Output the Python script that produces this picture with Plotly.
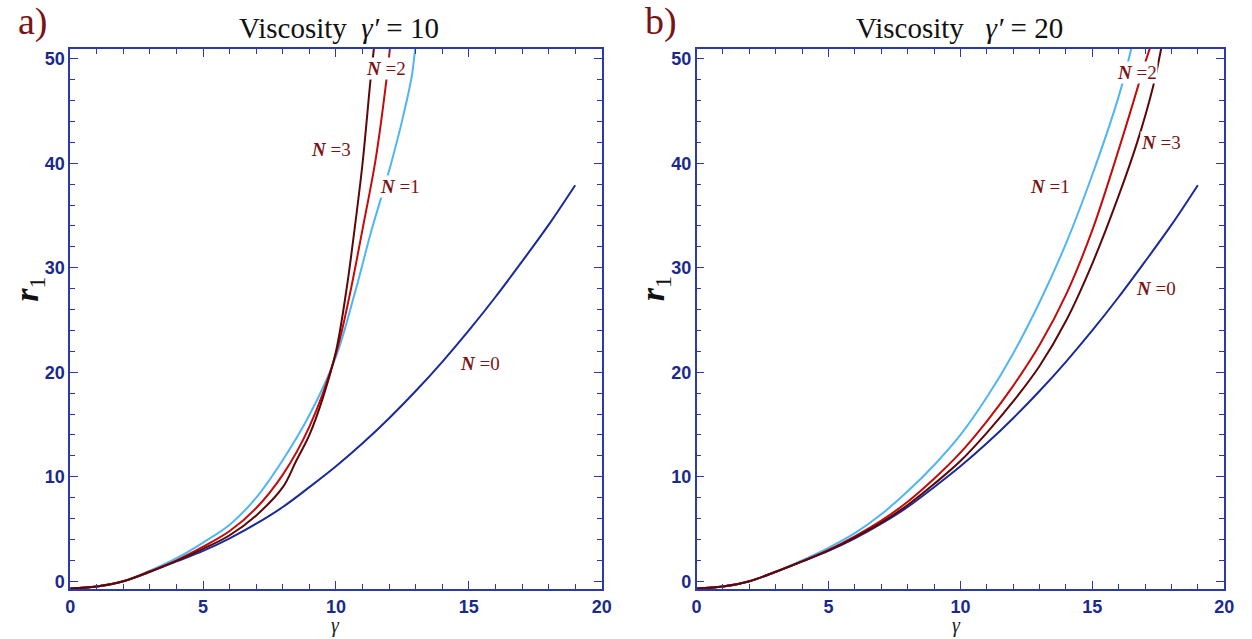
import plotly.graph_objects as go

# ---------------- data ----------------
# Panel a) gamma' = 10
a_n0_x = [0, 1, 2, 3, 4, 5, 6, 7, 8, 9, 10, 11, 12, 13, 14, 15, 16, 17, 18, 19]
a_n0_y = [-0.7, -0.5, 0.0, 0.9, 1.9, 2.9, 4.1, 5.5, 7.1, 9.0, 11.0, 13.2, 15.6, 18.2, 21.0, 24.0, 27.2, 30.6, 34.1, 37.9]

a_n1_x = [0, 1, 2, 3, 4, 5, 6, 7, 8, 9, 10, 10.7, 11.35, 11.9, 12.15, 12.5, 12.85, 12.95, 13.0]
a_n1_y = [-0.7, -0.5, 0.0, 1.0, 2.2, 3.7, 5.4, 8.0, 11.6, 15.9, 21.5, 27.5, 33.7, 38.4, 40.7, 44.2, 48.3, 50.3, 51.5]

a_n2_x = [0, 1, 2, 3, 4, 5, 6, 7, 8, 9, 10, 10.5, 11.0, 11.5, 11.9, 12.05]
a_n2_y = [-0.7, -0.5, 0.0, 0.95, 2.0, 3.3, 4.8, 7.0, 10.2, 14.8, 21.8, 27.2, 33.7, 40.5, 48.0, 51.5]

a_n3_x = [0, 1, 2, 3, 4, 5, 6, 7, 8, 8.5, 9, 9.5, 10, 10.4, 10.7, 11.0, 11.3, 11.45]
a_n3_y = [-0.7, -0.5, 0.0, 0.9, 1.95, 3.1, 4.4, 6.3, 9.0, 11.5, 14.0, 17.5, 22.0, 28.0, 33.7, 40.0, 48.0, 51.5]

# Panel b) gamma' = 20
b_n0_x = a_n0_x
b_n0_y = a_n0_y

b_n1_x = [0, 1, 2, 3, 4, 5, 6, 7, 8, 9, 10, 11, 12, 13, 14, 15, 16, 16.5]
b_n1_y = [-0.7, -0.5, 0.0, 0.9, 2.0, 3.2, 4.6, 6.4, 8.6, 11.1, 14.0, 17.6, 21.8, 26.7, 32.3, 38.9, 46.4, 51.2]

b_n2_x = [0, 1, 2, 3, 4, 5, 6, 7, 8, 9, 10, 11, 12, 13, 14, 15, 16, 16.5, 17, 17.25]
b_n2_y = [-0.7, -0.5, 0.0, 0.9, 1.9, 3.0, 4.3, 5.8, 7.6, 9.8, 12.3, 15.3, 18.7, 22.6, 27.4, 33.6, 41.3, 45.4, 49.6, 51.5]

b_n3_x = [0, 1, 2, 3, 4, 5, 6, 7, 8, 9, 10, 11, 12, 13, 14, 15, 16, 16.7, 17.3, 17.65]
b_n3_y = [-0.7, -0.5, 0.0, 0.9, 1.9, 2.95, 4.2, 5.6, 7.3, 9.3, 11.5, 14.2, 17.2, 20.6, 24.9, 30.4, 36.9, 42.0, 47.3, 51.5]

x_ticks = [0, 5, 10, 15, 20]
y_ticks = [0, 10, 20, 30, 40, 50]

# label positions (x, y, text) per panel
a_labels = [(11.9, 49.1, "2"), (9.8, 41.3, "3"), (12.4, 37.8, "1"), (15.4, 20.8, "0")]
b_labels = [(16.7, 48.7, "2"), (17.6, 42.0, "3"), (13.4, 37.8, "1"), (17.4, 28.0, "0")]

# ---------------- styling ----------------
C_N0 = "#1a2a9a"
C_N1 = "#4fb6f5"
C_N2 = "#c40a0a"
C_N3 = "#5c0808"
AX = "#2b3aa8"
TXT_RED = "#7a1414"
SERIF = "Liberation Serif"
SANS = "Liberation Sans"

fig = go.Figure()

def add_panel(xa, ya, series):
    for xs, ys, col in series:
        fig.add_trace(go.Scatter(x=xs, y=ys, mode="lines", xaxis=xa, yaxis=ya,
                                 line=dict(color=col, width=2, shape="spline", smoothing=1.0),
                                 showlegend=False, hoverinfo="skip"))

add_panel("x", "y", [(a_n0_x, a_n0_y, C_N0), (a_n1_x, a_n1_y, C_N1),
                      (a_n2_x, a_n2_y, C_N2), (a_n3_x, a_n3_y, C_N3)])
add_panel("x2", "y2", [(b_n0_x, b_n0_y, C_N0), (b_n1_x, b_n1_y, C_N1),
                        (b_n2_x, b_n2_y, C_N2), (b_n3_x, b_n3_y, C_N3)])

ydom = [1 - 591 / 639, 1 - 49 / 639]
xdom_a = [66 / 1252, 604 / 1252]
xdom_b = [700 / 1252, 1234 / 1252]

TICKFONT = dict(family=SANS, size=18, color="#1a2a8c")

def xaxis(dom, anchor):
    return dict(domain=dom, anchor=anchor, range=[0, 20], tickvals=x_ticks,
                ticktext=[f"<b>{v}</b>" for v in x_ticks],
                ticks="inside", ticklen=8, tickwidth=1.3, tickcolor=AX,
                showline=True, linecolor=AX, linewidth=1.5, mirror="ticks",
                showgrid=False, zeroline=False, tickfont=TICKFONT,
                minor=dict(dtick=1, ticks="inside", ticklen=5, tickcolor=AX, tickwidth=1.1, showgrid=False))

def yaxis(anchor):
    return dict(domain=ydom, anchor=anchor, range=[-0.76, 50.95], tickvals=y_ticks,
                ticktext=[f"<b>{v}</b>" for v in y_ticks],
                ticks="inside", ticklen=8, tickwidth=1.3, tickcolor=AX,
                showline=True, linecolor=AX, linewidth=1.5, mirror="ticks",
                showgrid=False, zeroline=False, tickfont=TICKFONT,
                minor=dict(dtick=2, ticks="inside", ticklen=5, tickcolor=AX, tickwidth=1.1, showgrid=False))

annotations = []
for xref, yref, labs in (("x", "y", a_labels), ("x2", "y2", b_labels)):
    for lx, ly, n in labs:
        annotations.append(dict(x=lx, y=ly, xref=xref, yref=yref, showarrow=False,
                                text="<b><i>N</i></b> =" + n, bgcolor="white",
                                font=dict(family=SERIF, size=19, color=TXT_RED), borderpad=0))

for xc, title in ((338 / 1252, "Viscosity  <i>γ′</i> = 10"),
                  (966 / 1252, "Viscosity   <i>γ′</i> = 20")):
    annotations.append(dict(x=xc, y=1 - 28 / 639, xref="paper", yref="paper", showarrow=False,
                            text=title, font=dict(family=SERIF, size=29, color="#111111"),
                            xanchor="center", yanchor="middle"))
    annotations.append(dict(x=xc - 3 / 1252, y=1 - 627 / 639, xref="paper", yref="paper", showarrow=False,
                            text="<i>γ</i>", font=dict(family=SERIF, size=20, color="#222222"),
                            xanchor="center", yanchor="middle"))

annotations.append(dict(x=28 / 1252, y=1 - 22 / 639, xref="paper", yref="paper", showarrow=False,
                        text="a)", font=dict(family=SERIF, size=38, color=TXT_RED),
                        xanchor="center", yanchor="middle"))
annotations.append(dict(x=664 / 1252, y=1 - 22 / 639, xref="paper", yref="paper", showarrow=False,
                        text="b)", font=dict(family=SERIF, size=38, color=TXT_RED),
                        xanchor="center", yanchor="middle"))
for xc in (24 / 1252, 658 / 1252):
    annotations.append(dict(x=xc, y=1 - 290 / 639, xref="paper", yref="paper", showarrow=False,
                            text="<b><i>r</i></b><sub>1</sub>", textangle=-90,
                            font=dict(family=SERIF, size=34, color="#111111"),
                            xanchor="center", yanchor="middle"))

fig.update_layout(
    width=1252, height=639,
    margin=dict(l=0, r=0, t=0, b=0),
    paper_bgcolor="white", plot_bgcolor="white",
    xaxis=xaxis(xdom_a, "y"), yaxis=yaxis("x"),
    xaxis2=xaxis(xdom_b, "y2"), yaxis2=yaxis("x2"),
    annotations=annotations,
    showlegend=False,
)

fig.write_html("out.html")
